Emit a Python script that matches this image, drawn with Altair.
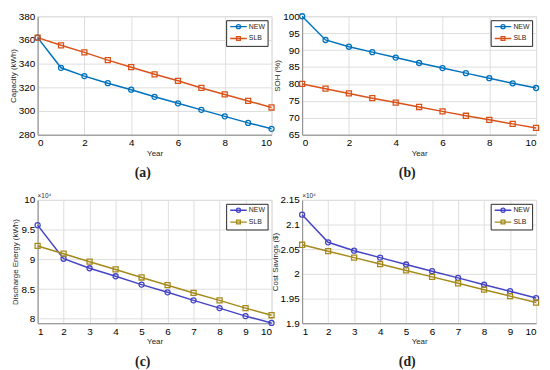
import altair as alt
import pandas as pd

# ---------------- data ----------------
years_a = list(range(0, 11))
cap_new = [362, 336.5, 329.5, 323.5, 318, 312, 306.5, 301, 295.5, 290, 285]
cap_slb = [362, 355.5, 349.5, 343, 337, 331, 325.5, 319.5, 314, 308.5, 303]

soh_new = [100, 93, 91, 89.4, 87.8, 86.2, 84.7, 83.2, 81.7, 80.2, 78.8]
soh_slb = [80, 78.6, 77.2, 75.8, 74.5, 73.2, 71.9, 70.6, 69.4, 68.2, 67.0]

years_c = list(range(1, 11))
dis_new = [95750, 90100, 88500, 87150, 85750, 84450, 83100, 81800, 80450, 79300]
dis_slb = [92250, 90950, 89600, 88300, 86950, 85650, 84350, 83100, 81800, 80600]

cost_new = [21200, 20640, 20470, 20330, 20190, 20055, 19920, 19780, 19650, 19510]
cost_slb = [20590, 20460, 20330, 20200, 20070, 19940, 19810, 19680, 19550, 19420]

series = ["NEW", "SLB"]
colors_ab = ["#0072BD", "#D95319"]
colors_cd = ["#4444C4", "#A68A1A"]

FONT = "Liberation Sans"
INK = "#262626"

# legend glyphs: a line segment with the marker on it
CIRC = "M-2.4,0L2.4,0M0.6,0A0.6,0.6,0,1,1,-0.6,0A0.6,0.6,0,1,1,0.6,0"
SQR = "M-2.4,0L2.4,0M-0.55,-0.55L0.55,-0.55L0.55,0.55L-0.55,0.55Z"

W = 237


def make_df(x, a, b):
    return pd.DataFrame({
        "Year": x * 2,
        "Value": a + b,
        "Series": ["NEW"] * len(a) + ["SLB"] * len(b),
    })


def panel(df, ytitle, ydom, yticks, xdom, xticks, colors, caption, h, exp=False):
    ax_kw = dict(values=yticks, title=ytitle, grid=True, ticks=False,
                 labelPadding=3, titlePadding=1, titleFontWeight="normal",
                 titleFont=FONT, titleFontSize=8, titleColor=INK)
    if exp:
        ax_kw["labelExpr"] = "format(datum.value / 10000, '~g')"
    x_enc = alt.X("Year:Q", scale=alt.Scale(domain=xdom, nice=False),
                  axis=alt.Axis(values=xticks, title="Year", grid=True, ticks=False,
                                labelPadding=3, titlePadding=2,
                                titleFontWeight="normal", titleFont=FONT,
                                titleFontSize=8, titleColor=INK))
    y_enc = alt.Y("Value:Q", scale=alt.Scale(domain=ydom, nice=False, zero=False),
                  axis=alt.Axis(**ax_kw))
    cscale = alt.Scale(domain=series, range=colors)
    base = alt.Chart(df).encode(x=x_enc, y=y_enc)
    line = base.mark_line(strokeWidth=1.5).encode(
        color=alt.Color("Series:N", scale=cscale, legend=None))
    pts = base.mark_point(filled=False, size=26, strokeWidth=1.3, opacity=1).encode(
        color=alt.Color("Series:N", scale=cscale, legend=None),
        shape=alt.Shape("Series:N", scale=alt.Scale(domain=series, range=["circle", "square"]),
                        legend=None),
    )
    leg = alt.Legend(
        title=None, orient="top-right", offset=4, fillColor="white",
        strokeColor=INK, padding=2, labelFontSize=7, labelFont=FONT,
        labelColor=INK, symbolSize=49, symbolOffset=6, labelOffset=6,
        rowPadding=1, symbolStrokeWidth=1.3, symbolOpacity=1,
    )
    legend_layer = base.transform_filter("false").mark_point(
        filled=False, strokeWidth=1.3).encode(
        color=alt.Color("Series:N", scale=cscale, legend=leg),
        shape=alt.Shape("Series:N", scale=alt.Scale(domain=series, range=[CIRC, SQR]),
                        legend=leg),
    )
    layers = [line, pts, legend_layer]
    if exp:
        note = alt.Chart(pd.DataFrame({"t": ["×10⁴"]})).mark_text(
            align="left", baseline="bottom", font=FONT, fontSize=6.5, color=INK
        ).encode(x=alt.value(0), y=alt.value(-1), text="t:N")
        layers.append(note)
    return alt.layer(*layers).resolve_scale(
        color="independent", shape="independent"
    ).properties(
        width=W, height=h,
        title=alt.TitleParams(caption, orient="bottom", font="Liberation Serif",
                              fontSize=14, fontWeight="bold", color="#222222",
                              offset=9, anchor="middle", dx=-12),
    )


pa = panel(make_df(years_a, cap_new, cap_slb), "Capacity (kWh)", [280, 380],
           list(range(280, 381, 20)), [0, 10], list(range(0, 11, 2)), colors_ab, "(a)", 120)
pb = panel(make_df(years_a, soh_new, soh_slb), "SOH (%)", [65, 100],
           list(range(65, 101, 5)), [0, 10], list(range(0, 11, 2)), colors_ab, "(b)", 120)
pc = panel(make_df(years_c, dis_new, dis_slb), "Discharge Energy (kWh)", [79250, 100000],
           list(range(80000, 100001, 5000)), [1, 10], years_c, colors_cd, "(c)", 125, exp=True)
pd_ = panel(make_df(years_c, cost_new, cost_slb), "Cost Savings ($)", [19000, 21500],
            list(range(19000, 21501, 500)), [1, 10], years_c, colors_cd, "(d)", 125, exp=True)

chart = alt.concat(pa, pb, pc, pd_, columns=2, spacing={"row": 66, "column": 31},
                   bounds="flush").properties(
    padding=0
).configure_view(
    stroke=INK, strokeWidth=0.8
).configure_axis(
    labelFont=FONT, labelFontSize=7, labelColor=INK,
    gridColor="#E3E3E3", gridWidth=0.7, domain=False,
).configure(background="white")

chart.save("out.html", embed_options={"renderer": "svg", "actions": False})
